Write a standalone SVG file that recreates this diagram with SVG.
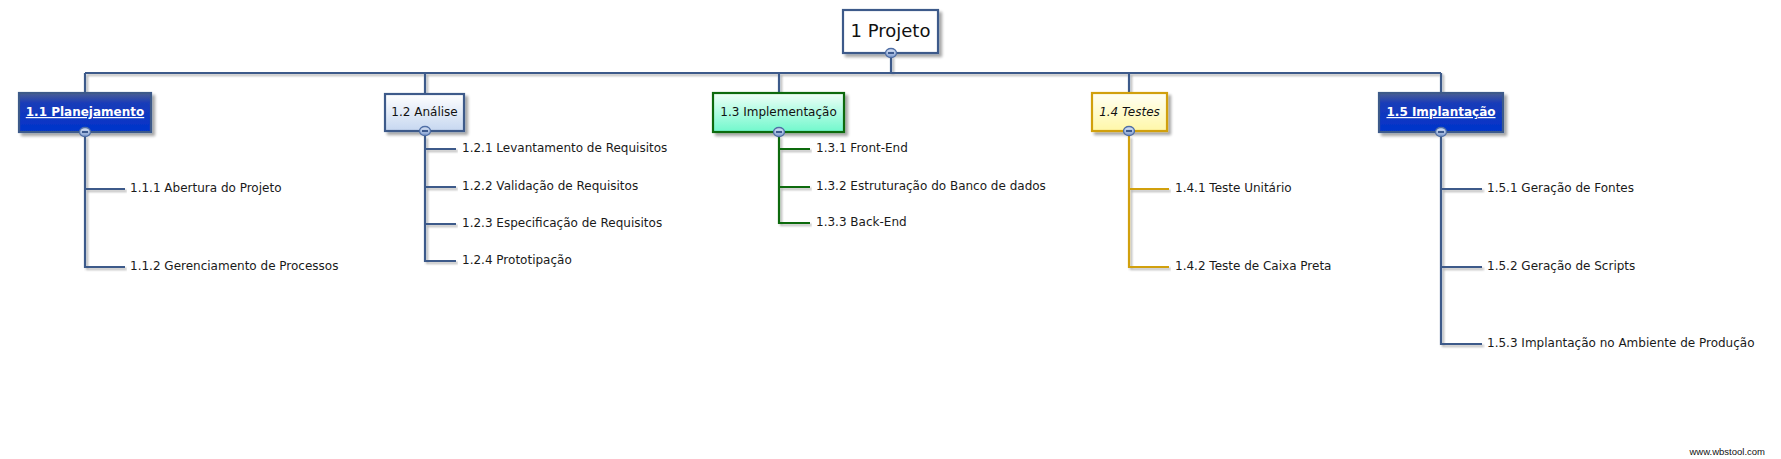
<svg xmlns="http://www.w3.org/2000/svg" width="1781" height="459" viewBox="0 0 1781 459">
<defs>
<linearGradient id="gBlue" x1="0" y1="0" x2="0" y2="1">
<stop offset="0" stop-color="#4b5f92"/>
<stop offset="0.25" stop-color="#1a3cb8"/>
<stop offset="1" stop-color="#0033cc"/>
</linearGradient>
<linearGradient id="gAna" x1="0" y1="0" x2="0" y2="1">
<stop offset="0" stop-color="#ffffff"/>
<stop offset="1" stop-color="#c6d7f0"/>
</linearGradient>
<linearGradient id="gImp" x1="0" y1="0" x2="0" y2="1">
<stop offset="0" stop-color="#f0fff8"/>
<stop offset="1" stop-color="#70f8cc"/>
</linearGradient>
<linearGradient id="gTes" x1="0" y1="0" x2="0" y2="1">
<stop offset="0" stop-color="#fffff4"/>
<stop offset="1" stop-color="#fff7a8"/>
</linearGradient>
<linearGradient id="gBtn" x1="0" y1="0" x2="0" y2="1">
<stop offset="0" stop-color="#dce6f6"/>
<stop offset="1" stop-color="#7f9ccf"/>
</linearGradient>
<filter id="sh" x="-10%" y="-10%" width="130%" height="140%">
<feGaussianBlur in="SourceAlpha" stdDeviation="1.5"/>
<feOffset dx="3" dy="3" result="b"/>
<feComponentTransfer><feFuncA type="linear" slope="0.35"/></feComponentTransfer>
<feMerge><feMergeNode/><feMergeNode in="SourceGraphic"/></feMerge>
</filter>
<filter id="lsh" x="-5%" y="-5%" width="110%" height="110%">
<feGaussianBlur in="SourceAlpha" stdDeviation="0.8"/>
<feOffset dx="1.5" dy="1.5" result="b"/>
<feComponentTransfer><feFuncA type="linear" slope="0.3"/></feComponentTransfer>
<feMerge><feMergeNode/><feMergeNode in="SourceGraphic"/></feMerge>
</filter>
</defs>
<style>
.ln{fill:none;stroke:#3d5a8a;stroke-width:2.2;filter:url(#lsh)}
.ln.g{stroke:#0b6a0b}
.ln.y{stroke:#d1a00a}
.box{stroke-width:2.2;filter:url(#sh)}
.t{font-family:"DejaVu Sans",Verdana,sans-serif;font-size:12px;fill:#1a1a1a}
.bt{font-family:"DejaVu Sans",Verdana,sans-serif;font-size:12px;text-anchor:middle}
.wb{fill:#ffffff;font-weight:bold;text-decoration:underline}
.btn{fill:url(#gBtn);stroke:#4f6ea5;stroke-width:1.3}
.mn{stroke:#2f4f86;stroke-width:1.8}
</style>
<rect width="1781" height="459" fill="#ffffff"/>
<g id="connectors">
<path class="ln" d="M85,73 H1441 M891,56 V73 M85,73 V93 M425,73 V94 M779,73 V93 M1129,73 V93 M1441,73 V93"/>
<path class="ln" d="M85,136 V267 H125 M85,189 H125"/>
<path class="ln" d="M425,136 V261 H456 M425,149 H456 M425,187 H456 M425,224 H456"/>
<path class="ln g" d="M779,136 V223 H810 M779,149 H810 M779,187 H810"/>
<path class="ln y" d="M1129,136 V267 H1169 M1129,189 H1169"/>
<path class="ln" d="M1441,136 V344 H1482 M1441,189 H1482 M1441,267 H1482"/>
</g>
<g id="n1">
<rect class="box" x="843" y="10" width="95" height="43" fill="#ffffff" stroke="#3d5a8a"/>
<text class="bt" x="890.5" y="37" style="font-size:18px;fill:#111">1 Projeto</text>
<ellipse class="btn" cx="891" cy="53" rx="5.5" ry="4.5"/><line class="mn" x1="888" y1="53" x2="894" y2="53"/>
</g>
<g id="n1_1">
<rect class="box" x="19" y="93" width="132" height="39" fill="url(#gBlue)" stroke="#3d5a8a"/>
<text class="bt wb" x="85" y="116">1.1 Planejamento</text>
<ellipse class="btn" cx="85" cy="132" rx="5.5" ry="4.5"/><line class="mn" x1="82" y1="132" x2="88" y2="132"/>
</g>
<g id="n1_1_1"><text class="t" x="130" y="192">1.1.1 Abertura do Projeto</text></g>
<g id="n1_1_2"><text class="t" x="130" y="270">1.1.2 Gerenciamento de Processos</text></g>
<g id="n1_2">
<rect class="box" x="385" y="94" width="79" height="37" fill="url(#gAna)" stroke="#3d5a8a"/>
<text class="bt" x="424.5" y="116" style="fill:#111">1.2 Análise</text>
<ellipse class="btn" cx="425" cy="131" rx="5.5" ry="4.5"/><line class="mn" x1="422" y1="131" x2="428" y2="131"/>
</g>
<g id="n1_2_1"><text class="t" x="462" y="152">1.2.1 Levantamento de Requisitos</text></g>
<g id="n1_2_2"><text class="t" x="462" y="190">1.2.2 Validação de Requisitos</text></g>
<g id="n1_2_3"><text class="t" x="462" y="227">1.2.3 Especificação de Requisitos</text></g>
<g id="n1_2_4"><text class="t" x="462" y="264">1.2.4 Prototipação</text></g>
<g id="n1_3">
<rect class="box" x="713" y="93" width="131" height="39" fill="url(#gImp)" stroke="#0b6a0b"/>
<text class="bt" x="778.5" y="116" style="fill:#111">1.3 Implementação</text>
<ellipse class="btn" cx="779" cy="132" rx="5.5" ry="4.5"/><line class="mn" x1="776" y1="132" x2="782" y2="132"/>
</g>
<g id="n1_3_1"><text class="t" x="816" y="152">1.3.1 Front-End</text></g>
<g id="n1_3_2"><text class="t" x="816" y="190">1.3.2 Estruturação do Banco de dados</text></g>
<g id="n1_3_3"><text class="t" x="816" y="226">1.3.3 Back-End</text></g>
<g id="n1_4">
<rect class="box" x="1092" y="93" width="75" height="38" fill="url(#gTes)" stroke="#d1a00a"/>
<text class="bt" x="1129.5" y="116" style="fill:#111;font-style:italic">1.4 Testes</text>
<ellipse class="btn" cx="1129" cy="131" rx="5.5" ry="4.5"/><line class="mn" x1="1126" y1="131" x2="1132" y2="131"/>
</g>
<g id="n1_4_1"><text class="t" x="1175" y="192">1.4.1 Teste Unitário</text></g>
<g id="n1_4_2"><text class="t" x="1175" y="270">1.4.2 Teste de Caixa Preta</text></g>
<g id="n1_5">
<rect class="box" x="1379" y="93" width="124" height="39" fill="url(#gBlue)" stroke="#3d5a8a"/>
<text class="bt wb" x="1441" y="116">1.5 Implantação</text>
<ellipse class="btn" cx="1441" cy="132" rx="5.5" ry="4.5"/><line class="mn" x1="1438" y1="132" x2="1444" y2="132"/>
</g>
<g id="n1_5_1"><text class="t" x="1487" y="192">1.5.1 Geração de Fontes</text></g>
<g id="n1_5_2"><text class="t" x="1487" y="270">1.5.2 Geração de Scripts</text></g>
<g id="n1_5_3"><text class="t" x="1487" y="347">1.5.3 Implantação no Ambiente de Produção</text></g>
<text x="1765" y="455" text-anchor="end" style="font-family:'Liberation Sans',Arial,sans-serif;font-size:9.5px;fill:#111">www.wbstool.com</text>
</svg>
